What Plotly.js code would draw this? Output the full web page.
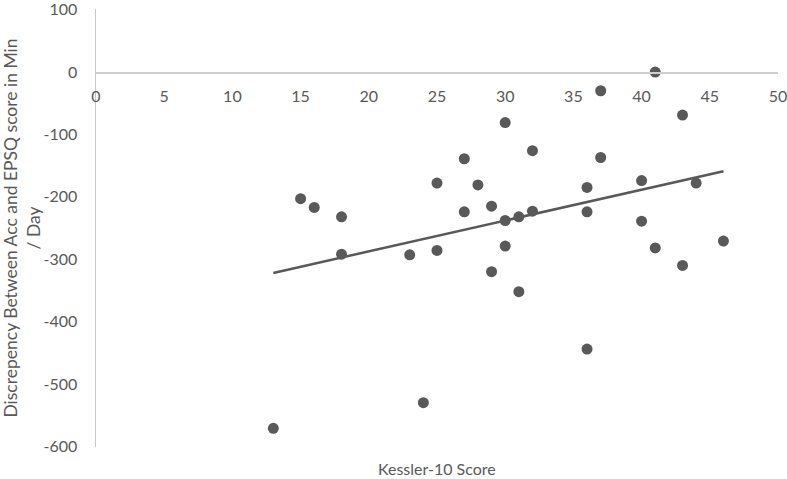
<!DOCTYPE html>
<html>
<head>
<meta charset="utf-8">
<script src="https://cdn.plot.ly/plotly-3.0.1.min.js"></script>
<style>
  html, body { margin: 0; padding: 0; background: #fff; }
  #myPlot { width: 787px; height: 479px; }
</style>
</head>
<body>
<div id="myPlot"></div>
<script>
// Kessler-10 score vs discrepancy (min/day)
var kessler = [13, 15, 16, 18, 18, 23, 24, 25, 25, 27, 27, 28, 29, 29, 30, 30, 30,
               31, 31, 32, 32, 36, 36, 36, 37, 37, 40, 40, 41, 41, 43, 43, 44, 46];
var discrep = [-571, -203, -217, -232, -292, -293, -530, -178, -286, -139, -224, -181, -215, -320, -81, -238, -279,
               -232, -352, -126, -223, -185, -224, -444, -30, -137, -174, -239, 0, -282, -69, -310, -178, -271];

// linear trend line end points
var trendX = [13, 46];
var trendY = [-322, -159];

var xTicks = [0, 5, 10, 15, 20, 25, 30, 35, 40, 45, 50];
var yTicks = [-600, -500, -400, -300, -200, -100, 0, 100];

var grey = "#595959";
var fnt = "Lato, 'Open Sans', sans-serif";

var data = [
  {x: kessler, y: discrep, mode: "markers", type: "scatter",
   marker: {color: grey, size: 11}},
  {x: trendX, y: trendY, mode: "lines", type: "scatter",
   line: {color: grey, width: 2.5}}
];

var layout = {
  width: 787, height: 479,
  margin: {l: 96, r: 9, t: 9, b: 32},
  showlegend: false,
  paper_bgcolor: "#fff", plot_bgcolor: "#fff",
  font: {family: fnt, size: 16, color: grey},
  xaxis: {
    range: [0, 50], tickvals: xTicks, ticktext: xTicks.map(String),
    anchor: "free", position: 601 / 702,
    showline: true, linecolor: "#d0d0d0", linewidth: 1.5,
    showgrid: false, zeroline: false, ticks: "",
    ticklabelstandoff: 9, ticklabeloverflow: "allow",
    tickfont: {family: fnt, size: 16, color: grey}
  },
  yaxis: {
    range: [-601, 101], tickvals: yTicks, ticktext: yTicks.map(String),
    showline: true, linecolor: "#c8c8c8", linewidth: 1.5,
    showgrid: false, zeroline: false, ticks: "",
    ticklabelstandoff: 14, ticklabeloverflow: "allow",
    tickfont: {family: fnt, size: 16, color: grey},
    title: {text: "Discrepency Between Acc and EPSQ score in Min<br>/ Day",
            font: {family: fnt, size: 17.5, color: grey}, standoff: 4}
  },
  annotations: [
    {text: "Kessler-10 Score", xref: "paper", yref: "paper", x: 0.5, y: -0.048,
     xanchor: "center", yanchor: "middle", showarrow: false,
     font: {family: fnt, size: 16, color: grey}}
  ]
};

Plotly.newPlot("myPlot", data, layout, {displayModeBar: false, staticPlot: true});
</script>
</body>
</html>
